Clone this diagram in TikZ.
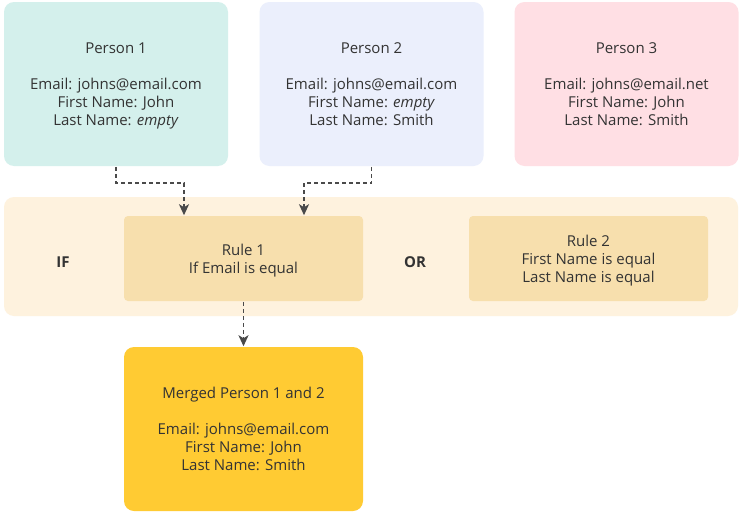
\documentclass[tikz,border=0pt]{standalone}
\usepackage{fontspec}
\setmainfont{Open Sans}
\usetikzlibrary{calc, positioning, arrows.meta}

\definecolor{tealbg}{HTML}{D4F0EC}
\definecolor{bluebg}{HTML}{EBEFFC}
\definecolor{pinkbg}{HTML}{FFDFE4}
\definecolor{bandbg}{HTML}{FEF2DE}
\definecolor{rulebg}{HTML}{F7DFAD}
\definecolor{mergebg}{HTML}{FFCB33}
\definecolor{txt}{HTML}{333333}
\definecolor{arrowcol}{HTML}{4A4A4A}

\newcommand{\tophead}{\rule{0pt}{16.5pt}}

\begin{document}
\begin{tikzpicture} [x = 1pt, y = -1pt, line width = 1.5pt, font = \fontsize{15}{18}\selectfont, text = txt,
  card/.style = {rounded corners = 10pt, align = center, inner sep = 0pt, text = txt},
  person/.style = {card, minimum width = 224pt, minimum height = 164pt},
  rulebox/.style = {card, fill = rulebg, rounded corners = 4pt, minimum width = 239pt, minimum height = 85pt},
  flow/.style = {-{Stealth[length = 11pt, width = 10pt, inset = 3pt]}, dash pattern = on 4pt off 3pt, draw = arrowcol, line width = 1.8pt}]

\useasboundingbox [fill = white] (0,0) rectangle (742,514);

\node [person, fill = tealbg] (p1) at (116,84) {\tophead Person 1\\[18pt]Email: johns@email.com\\First Name: John\\Last Name: \textit{empty}\strut};
\node [person, fill = bluebg] (p2) at (371.5,84) {\tophead Person 2\\[18pt]Email: johns@email.com\\First Name: \textit{empty}\\Last Name: Smith\strut};
\node [person, fill = pinkbg] (p3) at (626.5,84) {\tophead Person 3\\[18pt]Email: johns@email.net\\First Name: John\\Last Name: Smith\strut};

\node [card, fill = bandbg, minimum width = 734pt, minimum height = 119pt] (band) at (371,256.5) {};

\node [rulebox] (r1) at (243.5,258.5) {\tophead Rule 1\\If Email is equal\strut};
\node [rulebox] (r2) at (588.5,258.5) {\tophead Rule 2\\First Name is equal\\Last Name is equal\strut};

\node (if) at (63,262) {\bfseries IF};
\node (or) at (415,262) {\bfseries OR};

\node [person, fill = mergebg, minimum width = 239pt] (merged) at (243.5,429) {\tophead Merged Person 1 and 2\\[18pt]Email: johns@email.com\\First Name: John\\Last Name: Smith\strut};

\coordinate (in1) at ($(r1.north)+(-59.5,0)$);
\coordinate (in2) at ($(r1.north)+(60.5,0)$);

\draw [flow] (p1.south) -- ++(0,16) -| (in1);
\draw [flow] (p2.south) -- ++(0,16) -| (in2);
\draw [flow] (r1.south) -- (merged.north);

\end{tikzpicture}
\end{document}
